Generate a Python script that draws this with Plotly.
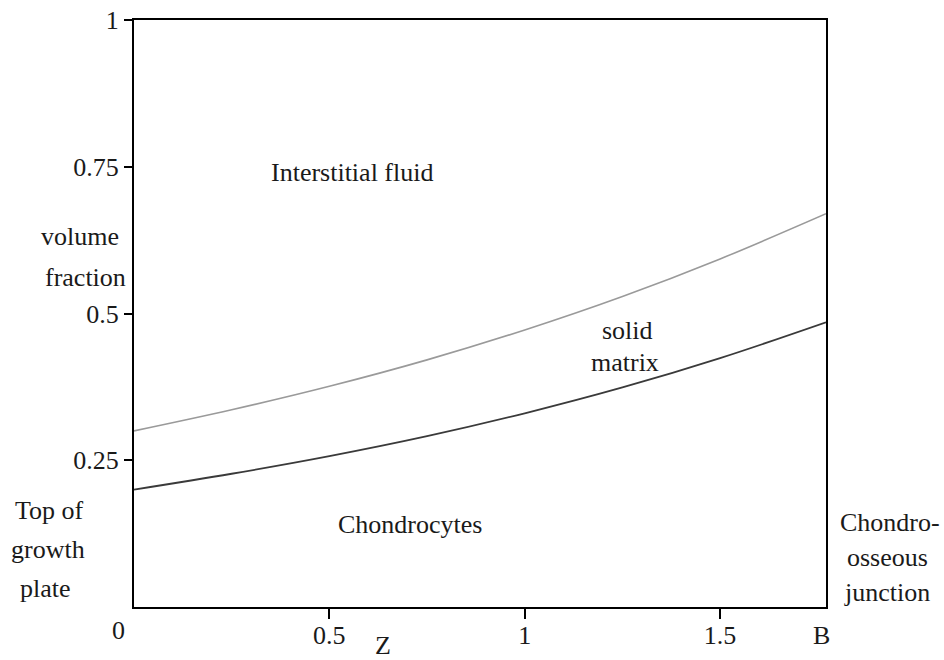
import plotly.graph_objects as go

# Position through the growth plate (Z), from the top of the plate (0) to the chondro-osseous junction (B)
z_pos = [0.0, 0.25, 0.5, 0.75, 1.0, 1.25, 1.5, 1.771]
# Volume fraction occupied by chondrocytes (lower boundary)
chondrocytes = [0.200, 0.227, 0.257, 0.291, 0.330, 0.374, 0.424, 0.485]
# Chondrocytes + solid matrix (upper boundary; above it is interstitial fluid)
cells_plus_matrix = [0.300, 0.336, 0.376, 0.421, 0.472, 0.529, 0.593, 0.670]

y_ticks = [0.25, 0.5, 0.75, 1]
y_tick_text = ["0.25", "0.5", "0.75", "1"]
x_ticks = [0.5, 1, 1.5]
x_tick_text = ["0.5", "1", "1.5"]
z_end = 1.771

FONT = "Liberation Serif"
TXT = "#1a1a1a"
FS = 26

W, H = 944, 660
L, R, T, B = 134, 118, 20, 53

fig = go.Figure()
fig.add_trace(go.Scatter(x=z_pos, y=cells_plus_matrix, mode="lines",
                         line=dict(color="#9a9a9a", width=1.6, shape="spline"),
                         hoverinfo="skip", showlegend=False))
fig.add_trace(go.Scatter(x=z_pos, y=chondrocytes, mode="lines",
                         line=dict(color="#3a3a3a", width=1.8, shape="spline"),
                         hoverinfo="skip", showlegend=False))

axis_common = dict(showline=True, linecolor="black", linewidth=2, mirror=True,
                   showgrid=False, zeroline=False, ticks="outside", tickcolor="black",
                   tickwidth=2, automargin=False,
                   tickfont=dict(family=FONT, size=FS, color=TXT))
fig.update_xaxes(range=[0, z_end], tickvals=x_ticks, ticktext=x_tick_text,
                 ticklen=10, ticklabelstandoff=-6, **axis_common)
fig.update_yaxes(range=[0, 1], tickvals=y_ticks, ticktext=y_tick_text,
                 ticklen=8, **axis_common)

fig.update_layout(width=W, height=H, margin=dict(l=L, r=R, t=T, b=B, autoexpand=False),
                  plot_bgcolor="white", paper_bgcolor="white")

# Text placed by pixel position in the figure
def fnote(text, px, py):
    fig.add_annotation(text=text, x=(px - L) / (W - L - R),
                       y=(H - B - py) / (H - B - T), xref="paper", yref="paper",
                       showarrow=False, xanchor="center", yanchor="middle",
                       font=dict(family=FONT, size=FS, color=TXT), align="center")

# Region labels inside the plot
fnote("Interstitial fluid", 352, 172)
fnote("solid", 627, 330)
fnote("matrix", 625, 362)
fnote("Chondrocytes", 410, 524)

# Labels around the frame
fnote("volume", 80, 237)
fnote("fraction", 85, 277)
fnote("Top of", 49, 510)
fnote("growth", 48, 549)
fnote("plate", 45, 588)
fnote("Chondro-", 890, 522)
fnote("osseous", 887, 557)
fnote("junction", 887, 592)
fnote("Z", 383, 645)
fnote("0", 118, 630)
fnote("B", 821, 635)

fig.write_html("out.html")
